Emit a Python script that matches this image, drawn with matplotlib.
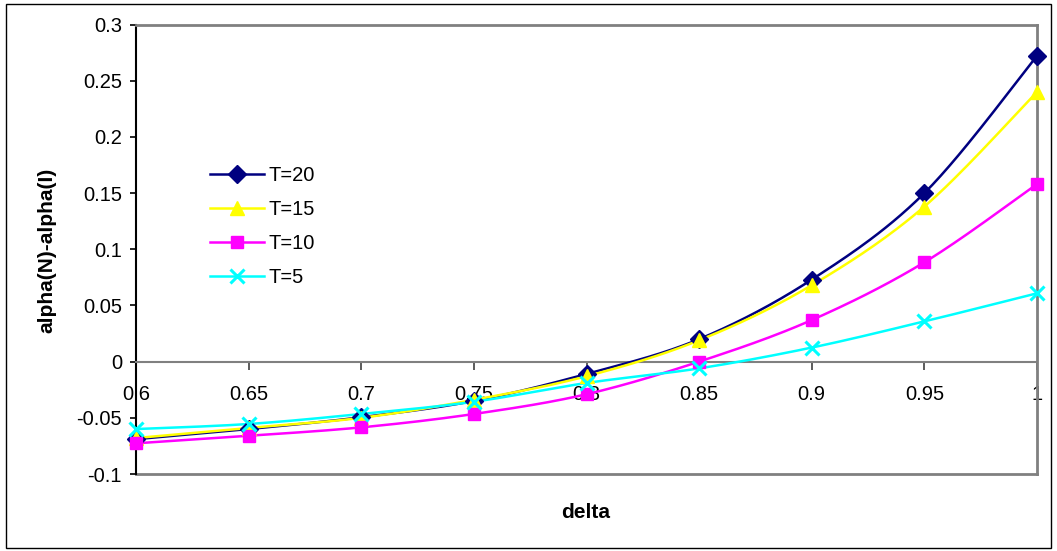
import numpy as np
import matplotlib
matplotlib.use("Agg")
import matplotlib.pyplot as plt
from matplotlib.lines import Line2D
from matplotlib.patches import Rectangle

plt.rcParams['font.family'] = ['Liberation Sans', 'DejaVu Sans']

delta = [0.6, 0.65, 0.7, 0.75, 0.8, 0.85, 0.9, 0.95, 1.0]
t20 = [-0.069, -0.060, -0.0495, -0.035, -0.011, 0.020, 0.073, 0.150, 0.272]
t15 = [-0.068, -0.059, -0.0500, -0.034, -0.013, 0.019, 0.068, 0.138, 0.240]
t10 = [-0.0727, -0.066, -0.0585, -0.0466, -0.029, 0.000, 0.037, 0.0884, 0.158]
t5 = [-0.060, -0.0555, -0.0466, -0.0357, -0.019, -0.006, 0.0125, 0.0358, 0.0608]

series = [
    ("T=20", t20, "#000080", "D", 9, "#000080"),
    ("T=15", t15, "#FFFF00", "^", 10, "#FFFF00"),
    ("T=10", t10, "#FF00FF", "s", 9, "#FF00FF"),
    ("T=5", t5, "#00FFFF", "x", 10, "#00FFFF"),
]


def smooth(xs, ys, n=30):
    """Cubic Bezier smoothing through points (control points from neighbours)."""
    p = np.column_stack([xs, ys]).astype(float)
    out = [p[0]]
    m = len(p)
    for i in range(m - 1):
        p0 = p[i - 1] if i > 0 else p[i]
        p1 = p[i]
        p2 = p[i + 1]
        p3 = p[i + 2] if i + 2 < m else p[i + 1]
        c1 = p1 + (p2 - p0) / 6.0
        c2 = p2 - (p3 - p1) / 6.0
        t = np.linspace(0, 1, n)[1:, None]
        seg = ((1 - t) ** 3) * p1 + 3 * ((1 - t) ** 2) * t * c1 + 3 * (1 - t) * t ** 2 * c2 + t ** 3 * p2
        out.extend(seg)
    out = np.array(out)
    return out[:, 0], out[:, 1]


W, H = 1057, 551
fig = plt.figure(figsize=(W / 100, H / 100), dpi=100)
fig.patches.append(Rectangle((6 / W, 1 - 548 / H), (1051 - 6) / W, (548 - 4) / H,
                             transform=fig.transFigure, fill=False,
                             edgecolor="black", linewidth=1.0))

L, R, T, B = 136, 1037, 24.5, 474
ax = fig.add_axes([L / W, 1 - B / H, (R - L) / W, (B - T) / H])

for label, vals, color, marker, ms, mfc in series:
    sx, sy = smooth(delta, vals)
    ax.plot(sx, sy, color=color, linewidth=1.8, zorder=3, clip_on=False)
    ax.plot(delta, vals, linestyle="none", marker=marker, markersize=ms,
            color=color, markerfacecolor=mfc, markeredgecolor=color,
            markeredgewidth=2.2 if marker == "x" else 1.0, zorder=4, clip_on=False)

ax.set_xlim(0.6, 1.0)
ax.set_ylim(-0.1, 0.3)
ax.set_yticks([-0.1, -0.05, 0, 0.05, 0.1, 0.15, 0.2, 0.25, 0.3])
ax.set_yticklabels(["-0.1", "-0.05", "0", "0.05", "0.1", "0.15", "0.2", "0.25", "0.3"])
ax.set_xticks(delta)
ax.set_xticklabels(["0.6", "0.65", "0.7", "0.75", "0.8", "0.85", "0.9", "0.95", "1"])

# frame: grey box, black value axis, category axis crossing at zero
for side in ("top", "right"):
    ax.spines[side].set_color("#808080")
    ax.spines[side].set_linewidth(2.0)
ax.spines["left"].set_color("black")
ax.spines["left"].set_linewidth(1.5)
ax.spines["bottom"].set_position(("data", 0))
ax.spines["bottom"].set_color("#808080")
ax.spines["bottom"].set_linewidth(1.5)
ax.axhline(-0.1, color="#808080", linewidth=2.0, zorder=1, clip_on=False)

ax.tick_params(axis="y", direction="out", length=4.5, width=1.2, pad=5.5,
               labelsize=14.5, colors="black")
ax.tick_params(axis="x", direction="out", length=6, width=1.2, pad=11,
               labelsize=14.5, color="#404040", labelcolor="black")

fig.text(47 / W, 1 - 250 / H, "alpha(N)-alpha(I)", rotation=90, ha="center",
         va="center", fontsize=15, fontweight="bold")
fig.text(586 / W, 1 - 512 / H, "delta", ha="center", va="center",
         fontsize=15, fontweight="bold")

handles = [Line2D([0], [0], color=c, linewidth=1.8, marker=m, markersize=ms,
                  markerfacecolor=f, markeredgecolor=c,
                  markeredgewidth=2.2 if m == "x" else 1.0)
           for _, _, c, m, ms, f in series]
leg = ax.legend(handles, [s[0] for s in series], loc="upper left",
                bbox_to_anchor=((196 - L) / (R - L), 1 - (152 - T) / (B - T)),
                frameon=False, fontsize=14.5, handlelength=2.7,
                handletextpad=0.2, labelspacing=0.75, borderpad=0.2)

fig.savefig("out.png", dpi=100)
